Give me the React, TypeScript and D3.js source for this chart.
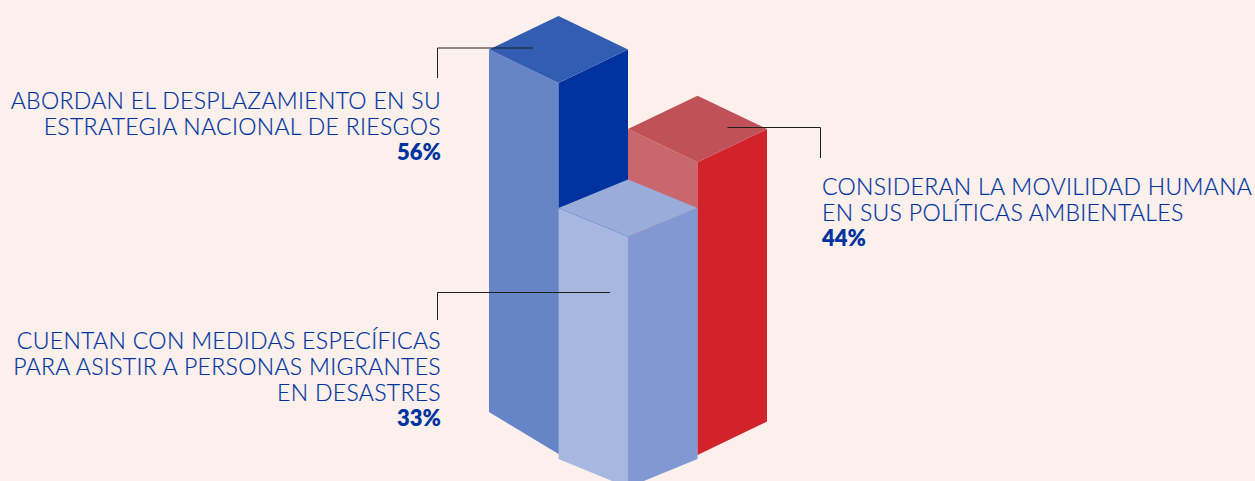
import React from 'react';
import * as d3 from 'd3';

const WIDTH = 1255;
const HEIGHT = 481;

// Data
const barKeys = ['abordan', 'cuentan', 'consideran'];
const barValues = [56, 33, 44];
const labelLines = [
  ['ABORDAN EL DESPLAZAMIENTO EN SU', 'ESTRATEGIA NACIONAL DE RIESGOS'],
  ['CUENTAN CON MEDIDAS ESPECÍFICAS', 'PARA ASISTIR A PERSONAS MIGRANTES', 'EN DESASTRES'],
  ['CONSIDERAN LA MOVILIDAD HUMANA', 'EN SUS POLÍTICAS AMBIENTALES'],
];

// Drawing order: back bars first, the light bar sits in front
const drawOrder = [0, 2, 1];

// The isometric drawing is not strictly proportional, so the scales go through the three values
const xScale = d3.scalePoint<string>().domain(barKeys).range([558.5, 697.5]);
const topScale = d3.scaleLinear().domain([33, 44, 56]).range([208, 129, 49.5]);
const edgeScale = d3.scaleLinear().domain([33, 44, 56]).range([251, 292.7, 371]);

const HALF_W = 69.5;
const halfDepth = [33.5, 28.5, 33.3];
const baseRise = [42, 28.5, 33.4];

const palettes = [
  { top: '#335DB2', left: '#6685C7', right: '#0033A0' },
  { top: '#9AADDA', left: '#A6B8E0', right: '#8099D3' },
  { top: '#C05157', left: '#C8676D', right: '#D2232A' },
];

const polygon = d3.line<[number, number]>().curve(d3.curveLinearClosed);

const leaders: [number, number][][] = [
  [[437.5, 78], [437.5, 48], [533, 48]],
  [[437.5, 320], [437.5, 292.5], [610, 292.5]],
  [[820.5, 158], [820.5, 127.5], [727.5, 127.5]],
];

const labelLayout = [
  { x: 441, anchor: 'end', y: 108.5 },
  { x: 441, anchor: 'end', y: 348.5 },
  { x: 822, anchor: 'start', y: 195 },
];

const TEXT_BLUE = '#0033A0';
const LINE_STEP = 26;

const Bar = ({ i }: { i: number }) => {
  const cx = xScale(barKeys[i]) as number;
  const top = topScale(barValues[i]);
  const d = halfDepth[i];
  const frontTop = top + d;
  const frontBottom = frontTop + edgeScale(barValues[i]);
  const sideBottom = frontBottom - baseRise[i];
  const l = cx - HALF_W;
  const r = cx + HALF_W;
  const colors = palettes[i];
  return (
    <g>
      <path
        fill={colors.left}
        d={polygon([[l, top], [cx, frontTop], [cx, frontBottom], [l, sideBottom]]) as string}
      />
      <path
        fill={colors.right}
        d={polygon([[cx, frontTop], [r, top], [r, sideBottom], [cx, frontBottom]]) as string}
      />
      <path
        fill={colors.top}
        d={polygon([[l, top], [cx, top - d], [r, top], [cx, frontTop]]) as string}
      />
    </g>
  );
};

export default function App() {
  return (
    <svg
      width={WIDTH}
      height={HEIGHT}
      style={{ position: 'absolute', left: 0, top: 0, background: '#FBF0EC' }}
      fontFamily="Lato"
    >
      {drawOrder.map((i) => (
        <Bar key={barKeys[i]} i={i} />
      ))}
      {leaders.map((pts, i) => (
        <path
          key={i}
          d={d3.line()(pts) as string}
          fill="none"
          stroke="#1F1F1F"
          strokeWidth={1}
        />
      ))}
      {labelLines.map((lines, i) => {
        const { x, anchor, y } = labelLayout[i];
        return (
          <g key={barKeys[i]} textAnchor={anchor} fill={TEXT_BLUE}>
            {lines.map((line, j) => (
              <text
                key={j}
                x={x}
                y={y + j * LINE_STEP}
                fontSize={23}
                fontWeight={300}
                letterSpacing={0.32}
                stroke={TEXT_BLUE}
                strokeWidth={0.2}
              >
                {line}
              </text>
            ))}
            <text x={x} y={y + lines.length * LINE_STEP - 1} fontSize={22} fontWeight={800}>
              {barValues[i]}%
            </text>
          </g>
        );
      })}
    </svg>
  );
}
